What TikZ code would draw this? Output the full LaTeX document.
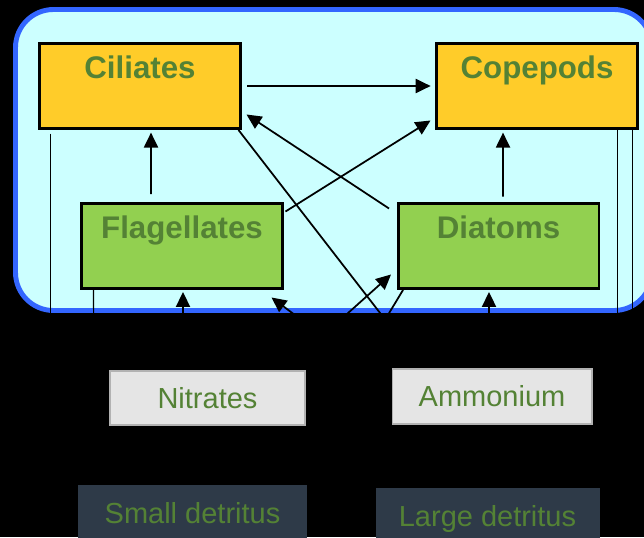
\documentclass[tikz,border=0pt]{standalone}
\usepackage{fontspec}
\setmainfont{Liberation Sans}
\usepackage{tikz}
\usetikzlibrary{arrows.meta}
\usetikzlibrary{backgrounds}
\usetikzlibrary{shapes,positioning}

\definecolor{ciliyellow}{RGB}{255,204,41}
\definecolor{flaggreen}{RGB}{146,208,80}
\definecolor{labelgreen}{RGB}{84,130,53}
\definecolor{watercyan}{RGB}{204,255,255}
\definecolor{borderblue}{RGB}{51,102,255}
\definecolor{nutgray}{RGB}{229,229,229}
\definecolor{detslate}{RGB}{46,58,72}

\tikzset{>={Triangle[length=8.5pt,width=8pt]},
  zoo/.style={draw=black, line width=1.7pt, fill=ciliyellow,
    minimum width=4.02cm, minimum height=1.7cm, inner sep=0pt,
    text=labelgreen, font=\fontsize{17.8}{20}\selectfont\bfseries,
    text height=13pt, text depth=22pt},
  phyto/.style={zoo, fill=flaggreen},
  nutrient/.style={draw=gray!60, line width=0.6pt, fill=nutgray,
    minimum width=3.9cm, minimum height=1.08cm, inner sep=0pt,
    text=labelgreen, font=\fontsize{16.5}{19}\selectfont},
  detritus/.style={nutrient, draw=detslate, fill=detslate,
    minimum width=4.5cm, minimum height=1.6cm,
    text height=12pt, text depth=14.5pt},
  flux/.style={->, line width=1pt},
  loss/.style={line width=1pt},
  thinloss/.style={line width=0.65pt}}

\begin{document}
\begin{tikzpicture}[x=0.02cm,y=-0.02cm]

    \useasboundingbox (0,0) rectangle (644,537);

    \begin{scope}[on background layer]
    \fill [black] (0,0) rectangle (644,537);
    \draw [borderblue, line width=2.8pt, fill=watercyan, rounded corners=0.76cm]
      (15.5,9.5) rectangle (652,310.5);
    \end{scope}

	% grazers
	\node [zoo] (cil) at (140,86) {Ciliates};
	\node [zoo] (cop) at (537,86) {Copepods};

	% phytoplankton
	\node [phyto] (fla) at (182,246) {Flagellates};
	\node [phyto] (dia) at (498.5,246) {Diatoms};

	% nutrients
	\node [nutrient] (nit) at (207.5,398) {Nitrates};
	\node [nutrient, minimum width=4cm, minimum height=1.1cm] (amm) at (492,396.5) {Ammonium};

	% detritus
	\node [detritus, minimum width=4.54cm] (sdet) at (192.5,526) {Small detritus};
	\node [detritus, minimum width=4.46cm] (ldet) at (487.5,529) {Large detritus};

    \begin{scope}[on background layer]
	\draw [flux, shorten <=3pt, shorten >=2.5pt] (cil.east) -- (cop.west);
	\draw [flux, shorten <=4.5pt, shorten >=1.5pt] ([xshift=-0.62cm]fla.north) -- ([xshift=0.22cm]cil.south);
	\draw [flux, shorten <=3pt, shorten >=1.5pt] ([xshift=0.09cm]dia.north) -- ([xshift=-0.68cm]cop.south);
	\draw [flux] ([xshift=0.03cm,yshift=-0.19cm]fla.north east) -- ([xshift=-0.09cm,yshift=0.19cm]cop.south west);
	\draw [flux] ([xshift=-0.15cm,yshift=-0.13cm]dia.north west) -- ([xshift=0.09cm,yshift=0.31cm]cil.south east);

	\draw [loss] ([xshift=-0.07cm]cil.south east) -- ([xshift=0.63cm]amm.north west);
	\draw [loss] ([xshift=0.13cm]dia.south west) -- ([xshift=-0.43cm]sdet.north east);

	\draw [flux] ([xshift=-0.43cm]nit.north east) -- ([xshift=-0.11cm,yshift=0.31cm]dia.south west);
	\draw [flux] ([yshift=0.19cm]amm.west) -- ([xshift=-0.25cm,yshift=-0.15cm]fla.south east);
	\draw [flux] ([xshift=-0.49cm]nit.north) -- ([xshift=0.02cm,yshift=-0.04cm]fla.south);
	\draw [flux] ([xshift=-0.06cm]amm.north) -- ([xshift=-0.19cm,yshift=-0.04cm]dia.south);

	\draw [thinloss, shorten <=2pt] ([xshift=0.25cm]cil.south west) |- (sdet.west);
	\draw [thinloss] ([xshift=0.27cm]fla.south west) -- ([xshift=0.31cm]sdet.north west);
	\draw [thinloss] ([xshift=-0.43cm]cop.south east) |- (ldet.east);
	\draw [loss] ([xshift=-0.13cm]cop.south east) |- (amm.east);
	\draw [flux] ([xshift=0.05cm]ldet.north) -- ([xshift=-0.04cm]amm.south);
    \end{scope}

\end{tikzpicture}
\end{document}
